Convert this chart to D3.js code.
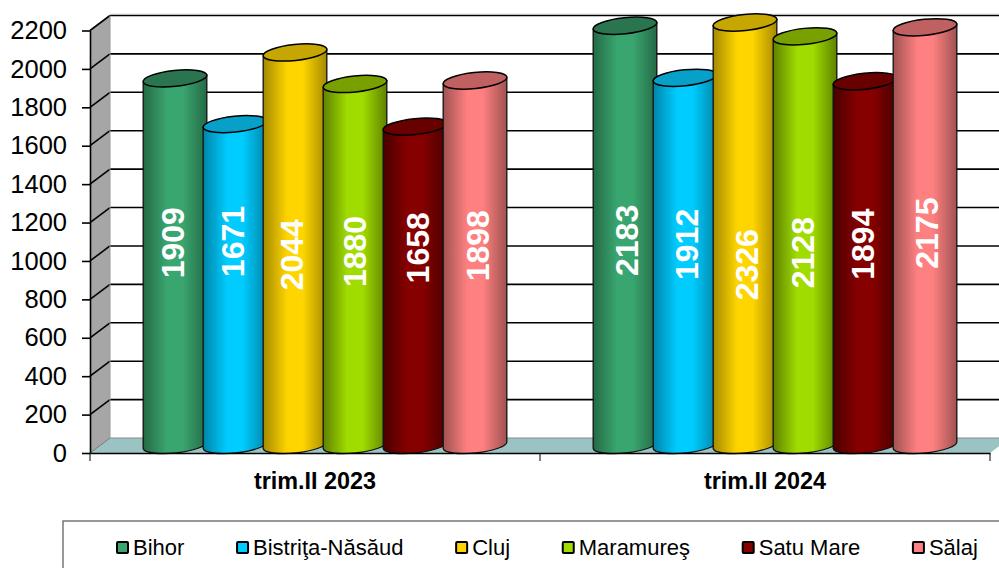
<!DOCTYPE html>
<html><head><meta charset="utf-8">
<script src="https://cdn.jsdelivr.net/npm/d3@7"></script>
<style>html,body{margin:0;padding:0;background:#fff;overflow:hidden}svg{display:block;font-family:"Liberation Sans",Arial,sans-serif}</style>
</head><body><svg id="c" width="999" height="568"></svg>
<script>
const categories = ["trim.II 2023", "trim.II 2024"];
const seriesNames = ["Bihor", "Bistriţa-Năsăud", "Cluj", "Maramureş", "Satu Mare", "Sălaj"];
const bihor = [1909, 2183];
const bistrita = [1671, 1912];
const cluj = [2044, 2326];
const maramures = [1880, 2128];
const satuMare = [1658, 1894];
const salaj = [1898, 2175];
const seriesValues = [bihor, bistrita, cluj, maramures, satuMare, salaj];
const yTicks = d3.range(0, 2201, 200);

// styling
const midColors = ["#3aa66f", "#00ccff", "#ffd500", "#a0dc00", "#860000", "#ff8080"];
const edgeColors = ["#246a46", "#0085a8", "#a58a00", "#5f8200", "#480000", "#a05252"];
const topColors = ["#2a7550", "#07a0c8", "#c6a600", "#78a000", "#680000", "#c06060"];
const labelNudgeY = [[-19, -43, 6, -13, -38, -17], [5, -17, 31, 12, -19, -3]];
const labelNudgeX = [[-3, -3, -4, -1, 2, 2], [1, 1, 1, -3, -3, 1]];

const svg = d3.select("#c");
const leftX = 90, rightX = 990, bottomY = 453, topY = 30.5, dx = 20, dy = 15;
const y = d3.scaleLinear().domain([0, 2200]).range([bottomY, topY]).clamp(true);
const x0 = d3.scaleBand().domain(categories).range([leftX, rightX]);
const barStep = 60, barW = 64;
const x1 = d3.scaleBand().domain(seriesNames).range([53, 53 + barStep * 6]);

const defs = svg.append("defs");
seriesNames.forEach((s, i) => {
  const g = defs.append("linearGradient").attr("id", "g" + i);
  [[0, edgeColors[i]], [0.38, midColors[i]], [0.62, midColors[i]], [1, edgeColors[i]]].forEach(d =>
    g.append("stop").attr("offset", d[0]).attr("stop-color", d[1]));
});

// walls and floor
svg.append("path").attr("fill", "#a6a6a6").attr("stroke", "none")
  .attr("d", `M${leftX},${bottomY}L${leftX},${topY}L${leftX + dx},${topY - dy}L${leftX + dx},${bottomY - dy}Z`);
svg.append("path").attr("fill", "#9cc3c3").attr("stroke", "none")
  .attr("d", `M${leftX},${bottomY}L${leftX + dx},${bottomY - dy}L${rightX + dx},${bottomY - dy}L${rightX},${bottomY}Z`);

// gridlines
yTicks.forEach(t => {
  const yy = y(t);
  svg.append("line").attr("x1", leftX + dx).attr("x2", 999).attr("y1", yy - dy).attr("y2", yy - dy)
    .attr("stroke", t > 0 ? "#000" : "#8a8a8a").attr("stroke-width", t > 0 ? 1.6 : 1);
  svg.append("line").attr("x1", leftX).attr("x2", leftX + dx).attr("y1", yy).attr("y2", yy - dy)
    .attr("stroke", t > 0 ? "#000" : "#777").attr("stroke-width", t > 0 ? 1.6 : 1);
});
svg.append("line").attr("x1", leftX + dx).attr("x2", leftX + dx).attr("y1", topY - dy).attr("y2", bottomY - dy)
  .attr("stroke", "#9a9a9a").attr("stroke-width", 1);
svg.append("line").attr("x1", leftX + dx).attr("x2", 999).attr("y1", topY - dy - 1.2).attr("y2", topY - dy - 1.2)
  .attr("stroke", "#bbb").attr("stroke-width", 1);

// cylinders
const rx = 32, ry = 8, tilt = 6, sin = Math.sin(tilt * Math.PI / 180) * rx, cos = Math.cos(tilt * Math.PI / 180) * rx;
const baseY = 445;
categories.forEach((c, ci) => {
  seriesNames.forEach((s, si) => {
    const v = seriesValues[si][ci];
    const cx = x0(c) + x1(s) + barW / 2;
    const h = bottomY - y(v);
    const cyTop = baseY - h, cyBot = baseY;
    const g = svg.append("g");
    g.append("path")
      .attr("d", `M${cx - cos},${cyTop + sin}L${cx - cos},${cyBot + sin}` +
        `A${rx},${ry} ${-tilt} 0 0 ${cx + cos},${cyBot - sin}L${cx + cos},${cyTop - sin}Z`)
      .attr("fill", `url(#g${si})`).attr("stroke", "#111").attr("stroke-width", 1.3);
    g.append("ellipse").attr("cx", cx).attr("cy", cyTop).attr("rx", rx).attr("ry", ry)
      .attr("transform", `rotate(${-tilt} ${cx} ${cyTop})`)
      .attr("fill", topColors[si]).attr("stroke", "#000").attr("stroke-width", 1.5);
  });
});
// data labels on top of all cylinders
categories.forEach((c, ci) => {
  seriesNames.forEach((s, si) => {
    const v = seriesValues[si][ci];
    const cx = x0(c) + x1(s) + barW / 2;
    const h = bottomY - y(v);
    const ly = baseY - h / 2 + labelNudgeY[ci][si];
    svg.append("text").text(v).attr("transform", `translate(${cx + labelNudgeX[ci][si]},${ly}) rotate(-90)`)
      .attr("text-anchor", "middle").attr("dy", "0.36em").attr("fill", "#fff")
      .attr("font-size", 32).attr("font-weight", "bold");
  });
});

// y axis
const yAxis = svg.append("g").attr("transform", `translate(${leftX},0)`)
  .call(d3.axisLeft(y).tickValues(yTicks).tickFormat(d3.format("d")).tickSize(8).tickPadding(15).tickSizeOuter(0));
yAxis.selectAll("text").attr("font-size", 25.5).attr("fill", "#000").attr("font-family", "Liberation Sans");
yAxis.selectAll("line,path").attr("stroke", "#000").attr("stroke-width", 1.6);

// x axis
const xAxis = svg.append("g").attr("transform", `translate(0,${bottomY})`)
  .call(d3.axisBottom(x0).tickSize(0).tickPadding(19));
xAxis.select(".domain").attr("stroke", "#000").attr("stroke-width", 1.6);
xAxis.selectAll("text").attr("font-size", 23.4).attr("font-weight", "bold").attr("fill", "#000")
  .attr("font-family", "Liberation Sans");
[leftX, x0(categories[1]), rightX].forEach(t =>
  svg.append("line").attr("x1", t).attr("x2", t).attr("y1", bottomY).attr("y2", bottomY + 8)
    .attr("stroke", "#000").attr("stroke-width", 1));

// legend
svg.append("rect").attr("x", 63).attr("y", 521).attr("width", 960).attr("height", 70)
  .attr("fill", "#fff").attr("stroke", "#555").attr("stroke-width", 1.2);
let lx = 116;
seriesNames.forEach((s, i) => {
  svg.append("rect").attr("x", lx + 1).attr("y", 542).attr("width", 11).attr("height", 11).attr("rx", 1)
    .attr("fill", midColors[i]).attr("stroke", "#000").attr("stroke-width", 2);
  const t = svg.append("text").text(s).attr("x", lx + 17).attr("y", 555).attr("font-size", 22).attr("fill", "#000");
  lx += 17 + t.node().getComputedTextLength() + 51.7;
});
</script></body></html>
